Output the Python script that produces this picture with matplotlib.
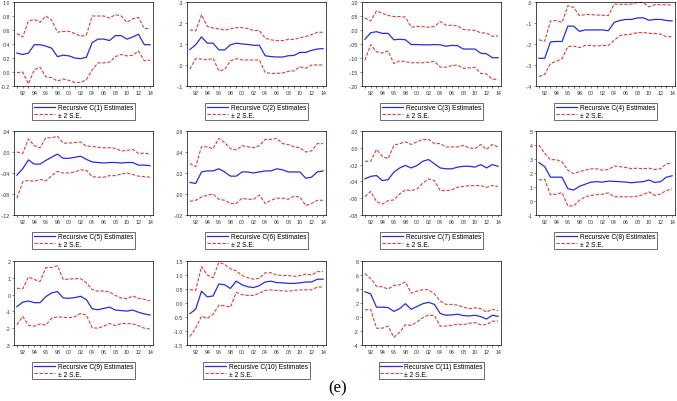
import numpy as np
import matplotlib
matplotlib.use("Agg")
import matplotlib.pyplot as plt

plt.rcParams['font.family'] = ['Liberation Sans', 'DejaVu Sans']

# years of the recursive estimates
years = list(range(1991, 2015))

# C(1)
c1 = [0.27, 0.25, 0.27, 0.39, 0.39, 0.37, 0.34, 0.22, 0.24, 0.23, 0.20, 0.19, 0.21, 0.42, 0.47, 0.47, 0.45, 0.52, 0.52, 0.47, 0.50, 0.54, 0.39, 0.39]
c1_up = [0.55, 0.50, 0.73, 0.75, 0.71, 0.80, 0.74, 0.57, 0.58, 0.58, 0.55, 0.51, 0.53, 0.80, 0.80, 0.80, 0.77, 0.82, 0.80, 0.71, 0.76, 0.78, 0.62, 0.62]
c1_lo = [-0.01, 0.00, -0.17, 0.03, 0.07, -0.07, -0.08, -0.13, -0.10, -0.12, -0.15, -0.15, -0.11, 0.03, 0.13, 0.13, 0.14, 0.22, 0.25, 0.23, 0.24, 0.30, 0.16, 0.17]

# C(2)
c2 = [0.074, 0.096, 0.134, 0.104, 0.104, 0.072, 0.072, 0.096, 0.104, 0.100, 0.098, 0.094, 0.094, 0.044, 0.040, 0.038, 0.038, 0.044, 0.046, 0.060, 0.060, 0.070, 0.076, 0.078]
c2_up = [0.168, 0.162, 0.240, 0.184, 0.176, 0.172, 0.166, 0.172, 0.178, 0.178, 0.174, 0.164, 0.164, 0.128, 0.120, 0.116, 0.116, 0.122, 0.122, 0.130, 0.136, 0.144, 0.156, 0.156]
c2_lo = [-0.020, 0.030, 0.028, 0.024, 0.032, -0.028, -0.022, 0.020, 0.030, 0.024, 0.024, 0.024, 0.024, -0.036, -0.040, -0.040, -0.038, -0.030, -0.028, -0.008, -0.016, 0.000, 0.000, 0.000]

# C(3)
c3 = [-0.033, -0.010, -0.006, -0.012, -0.012, -0.035, -0.033, -0.035, -0.052, -0.052, -0.053, -0.053, -0.052, -0.053, -0.058, -0.055, -0.056, -0.068, -0.068, -0.068, -0.083, -0.085, -0.099, -0.099]
c3_up = [0.043, 0.032, 0.068, 0.060, 0.052, 0.048, 0.048, 0.046, 0.010, 0.013, 0.012, 0.010, 0.012, 0.030, 0.017, 0.017, 0.015, 0.002, 0.000, -0.001, -0.010, -0.011, -0.022, -0.022]
c3_lo = [-0.108, -0.052, -0.078, -0.082, -0.075, -0.120, -0.110, -0.113, -0.117, -0.117, -0.117, -0.115, -0.112, -0.132, -0.133, -0.127, -0.125, -0.137, -0.135, -0.133, -0.155, -0.157, -0.176, -0.176]

# C(4)
c4 = [-0.268, -0.268, -0.190, -0.188, -0.188, -0.115, -0.115, -0.140, -0.133, -0.133, -0.133, -0.133, -0.137, -0.097, -0.088, -0.083, -0.083, -0.076, -0.075, -0.087, -0.083, -0.083, -0.088, -0.090]
c4_up = [-0.180, -0.187, -0.090, -0.088, -0.097, -0.018, -0.025, -0.065, -0.060, -0.060, -0.062, -0.063, -0.065, -0.010, -0.011, -0.011, -0.010, -0.002, -0.003, -0.023, -0.013, -0.013, -0.013, -0.015]
c4_lo = [-0.355, -0.345, -0.293, -0.282, -0.270, -0.212, -0.210, -0.217, -0.207, -0.207, -0.210, -0.207, -0.207, -0.182, -0.160, -0.155, -0.153, -0.146, -0.145, -0.149, -0.150, -0.153, -0.165, -0.165]

# C(5)
c5 = [-0.044, -0.032, -0.015, -0.023, -0.023, -0.016, -0.010, -0.004, -0.012, -0.012, -0.010, -0.008, -0.014, -0.019, -0.020, -0.021, -0.020, -0.020, -0.021, -0.020, -0.020, -0.025, -0.025, -0.026]
c5_up = [0.000, -0.003, 0.025, 0.012, 0.008, 0.027, 0.027, 0.030, 0.017, 0.017, 0.018, 0.019, 0.011, 0.011, 0.009, 0.008, 0.008, 0.007, 0.002, 0.003, 0.005, -0.003, -0.002, -0.004]
c5_lo = [-0.088, -0.057, -0.054, -0.056, -0.052, -0.055, -0.045, -0.037, -0.040, -0.040, -0.038, -0.034, -0.035, -0.047, -0.048, -0.048, -0.045, -0.045, -0.042, -0.040, -0.043, -0.046, -0.047, -0.048]

# C(6)
c6 = [0.011, 0.010, 0.021, 0.022, 0.022, 0.024, 0.021, 0.017, 0.017, 0.021, 0.021, 0.020, 0.021, 0.022, 0.022, 0.024, 0.023, 0.021, 0.021, 0.021, 0.015, 0.016, 0.021, 0.022]
c6_up = [0.029, 0.026, 0.045, 0.045, 0.043, 0.053, 0.049, 0.043, 0.042, 0.046, 0.045, 0.044, 0.046, 0.052, 0.052, 0.053, 0.048, 0.047, 0.045, 0.044, 0.040, 0.041, 0.048, 0.048]
c6_lo = [-0.007, -0.006, -0.003, -0.001, 0.000, -0.005, -0.006, -0.009, -0.009, -0.004, -0.005, -0.005, -0.001, -0.009, -0.006, -0.004, -0.004, -0.005, -0.002, -0.003, -0.011, -0.009, -0.006, -0.006]

# C(7)
c7 = [-0.037, -0.034, -0.033, -0.039, -0.038, -0.029, -0.024, -0.021, -0.024, -0.021, -0.016, -0.014, -0.019, -0.024, -0.025, -0.025, -0.023, -0.022, -0.022, -0.023, -0.020, -0.024, -0.020, -0.022]
c7_up = [-0.016, -0.016, -0.002, -0.010, -0.013, 0.003, 0.005, 0.007, 0.004, 0.007, 0.010, 0.010, 0.005, 0.005, 0.001, 0.001, 0.001, 0.003, 0.000, -0.001, 0.004, -0.002, 0.004, 0.001]
c7_lo = [-0.058, -0.052, -0.064, -0.067, -0.063, -0.062, -0.055, -0.050, -0.051, -0.049, -0.042, -0.037, -0.039, -0.051, -0.051, -0.050, -0.047, -0.046, -0.045, -0.045, -0.045, -0.047, -0.045, -0.046]

# C(8)
c8 = [2.75, 2.45, 1.70, 1.70, 1.70, 0.88, 0.78, 1.05, 1.20, 1.35, 1.38, 1.35, 1.42, 1.40, 1.38, 1.35, 1.30, 1.35, 1.38, 1.50, 1.32, 1.38, 1.70, 1.80]
c8_up = [4.00, 3.40, 2.95, 2.95, 2.80, 2.20, 1.95, 2.10, 2.20, 2.30, 2.30, 2.20, 2.25, 2.50, 2.45, 2.40, 2.30, 2.35, 2.30, 2.35, 2.25, 2.30, 2.65, 2.70]
c8_lo = [1.50, 1.55, 0.45, 0.48, 0.60, -0.35, -0.35, 0.05, 0.30, 0.40, 0.45, 0.48, 0.58, 0.30, 0.30, 0.30, 0.30, 0.35, 0.45, 0.65, 0.40, 0.50, 0.75, 0.85]

# C(9)
c9 = [-0.72, -0.45, -0.38, -0.48, -0.48, -0.12, 0.10, 0.18, -0.20, -0.22, -0.18, -0.10, -0.30, -0.85, -0.90, -0.82, -0.75, -0.92, -0.95, -0.98, -0.92, -1.05, -1.15, -1.22]
c9_up = [0.38, 0.35, 1.05, 0.90, 0.78, 1.60, 1.62, 1.72, 0.90, 0.92, 0.95, 0.95, 0.70, 0.30, 0.20, 0.22, 0.15, -0.05, -0.20, -0.25, -0.08, -0.22, -0.28, -0.38]
c9_lo = [-1.80, -1.30, -1.82, -1.88, -1.75, -1.82, -1.40, -1.32, -1.35, -1.38, -1.32, -1.12, -1.22, -1.98, -2.00, -1.88, -1.72, -1.85, -1.72, -1.72, -1.75, -1.85, -2.00, -2.05]

# C(10)
c10 = [-0.38, -0.22, 0.42, 0.22, 0.25, 0.68, 0.65, 0.52, 0.78, 0.65, 0.58, 0.55, 0.62, 0.75, 0.78, 0.73, 0.72, 0.70, 0.70, 0.72, 0.75, 0.75, 0.85, 0.85]
c10_up = [0.48, 0.45, 1.30, 1.00, 0.90, 1.45, 1.38, 1.22, 1.15, 0.98, 0.90, 0.85, 0.88, 1.08, 1.08, 1.00, 0.98, 0.98, 0.95, 0.98, 1.03, 1.00, 1.12, 1.12]
c10_lo = [-1.20, -0.90, -0.47, -0.55, -0.40, -0.08, -0.10, -0.15, 0.38, 0.30, 0.27, 0.27, 0.35, 0.45, 0.47, 0.45, 0.43, 0.42, 0.45, 0.47, 0.47, 0.47, 0.57, 0.57]

# C(11)
c11 = [3.60, 3.30, 1.40, 1.40, 1.35, 0.80, 1.20, 1.90, 1.10, 1.50, 1.90, 2.10, 1.80, 0.50, 0.25, 0.30, 0.40, 0.20, 0.15, 0.25, 0.05, -0.30, 0.25, 0.10]
c11_up = [6.20, 5.50, 4.40, 4.30, 4.00, 4.50, 4.60, 5.00, 3.40, 3.70, 3.90, 3.90, 3.30, 2.30, 1.80, 1.80, 1.70, 1.40, 1.20, 1.30, 1.20, 0.70, 1.10, 0.90]
c11_lo = [1.00, 1.10, -1.60, -1.60, -1.30, -2.90, -2.20, -1.10, -1.20, -0.70, -0.10, 0.30, 0.20, -1.30, -1.30, -1.20, -1.00, -1.10, -0.90, -0.80, -1.10, -1.10, -0.60, -0.60]

# y tick values and their EViews style labels
yt1 = [-0.2, 0.0, 0.2, 0.4, 0.6, 0.8, 1.0]
yl1 = ["-0.2", "0.0", "0.2", "0.4", "0.6", "0.8", "1.0"]
yt2 = [-0.1, 0.0, 0.1, 0.2, 0.3]
yl2 = ["-.1", ".0", ".1", ".2", ".3"]
yt3 = [-0.20, -0.15, -0.10, -0.05, 0.00, 0.05, 0.10]
yl3 = ["-.20", "-.15", "-.10", "-.05", ".00", ".05", ".10"]
yt4 = [-0.4, -0.3, -0.2, -0.1, 0.0]
yl4 = ["-.4", "-.3", "-.2", "-.1", ".0"]
yt5 = [-0.12, -0.08, -0.04, 0.00, 0.04]
yl5 = ["-.12", "-.08", "-.04", ".00", ".04"]
yt6 = [-0.02, 0.00, 0.02, 0.04, 0.06]
yl6 = ["-.02", ".00", ".02", ".04", ".06"]
yt7 = [-0.08, -0.06, -0.04, -0.02, 0.00, 0.02]
yl7 = ["-.08", "-.06", "-.04", "-.02", ".00", ".02"]
yt8 = [-1, 0, 1, 2, 3, 4, 5]
yl8 = ["-1", "0", "1", "2", "3", "4", "5"]
yt9 = [-3, -2, -1, 0, 1, 2]
yl9 = ["-3", "-2", "-1", "0", "1", "2"]
yt10 = [-1.5, -1.0, -0.5, 0.0, 0.5, 1.0, 1.5]
yl10 = ["-1.5", "-1.0", "-0.5", "0.0", "0.5", "1.0", "1.5"]
yt11 = [-4, -2, 0, 2, 4, 6, 8]
yl11 = ["-4", "-2", "0", "2", "4", "6", "8"]

xticks = list(range(1992, 2015, 2))
xlabels = ["%02d" % (y % 100) for y in xticks]

panels = [
    (c1, c1_up, c1_lo, yt1, yl1),
    (c2, c2_up, c2_lo, yt2, yl2),
    (c3, c3_up, c3_lo, yt3, yl3),
    (c4, c4_up, c4_lo, yt4, yl4),
    (c5, c5_up, c5_lo, yt5, yl5),
    (c6, c6_up, c6_lo, yt6, yl6),
    (c7, c7_up, c7_lo, yt7, yl7),
    (c8, c8_up, c8_lo, yt8, yl8),
    (c9, c9_up, c9_lo, yt9, yl9),
    (c10, c10_up, c10_lo, yt10, yl10),
    (c11, c11_up, c11_lo, yt11, yl11),
]

W, H = 677, 402
fig = plt.figure(figsize=(W / 100, H / 100), dpi=100)

lefts = [14, 187, 362, 536]
tops = [3, 132, 262]
aw, ah = 139, 84

blue = "#2a2ae6"
red = "#e03a3a"

for i, (est, up, lo, yt, yl) in enumerate(panels):
    r, c = divmod(i, 4)
    ax = fig.add_axes([lefts[c] / W, 1 - (tops[r] + ah) / H, aw / W, ah / H])
    ax.plot(years, est, color=blue, lw=0.9, label="Recursive C(%d) Estimates" % (i + 1))
    ax.plot(years, up, color=red, lw=0.8, ls=(0, (3, 1.5)), label="± 2 S.E.")
    ax.plot(years, lo, color=red, lw=0.8, ls=(0, (3, 1.5)))
    ax.set_xlim(1990.5, 2014.5)
    ax.set_ylim(yt[0], yt[-1])
    ax.set_xticks(xticks)
    ax.set_xticklabels(xlabels)
    ax.set_xticks(years, minor=True)
    ax.set_yticks(yt)
    ax.set_yticklabels(yl)
    ax.tick_params(labelsize=3.8, length=1.6, width=0.4, pad=1, colors="#333333")
    ax.tick_params(which="minor", length=1.1, width=0.4)
    for s in ax.spines.values():
        s.set_linewidth(0.5)
    leg = ax.legend(loc="upper center", bbox_to_anchor=(0.5, -0.2), fontsize=4.8,
                    frameon=True, fancybox=False, edgecolor="black", borderpad=0.25,
                    handlelength=3.2, handletextpad=0.4, labelspacing=0.05,
                    borderaxespad=0)
    leg.get_frame().set_linewidth(0.5)

fig.text(338 / W, 1 - 388 / H, "(e)", ha="center", va="center",
         fontsize=12, family="Liberation Serif")

fig.savefig("out.png", dpi=100)
